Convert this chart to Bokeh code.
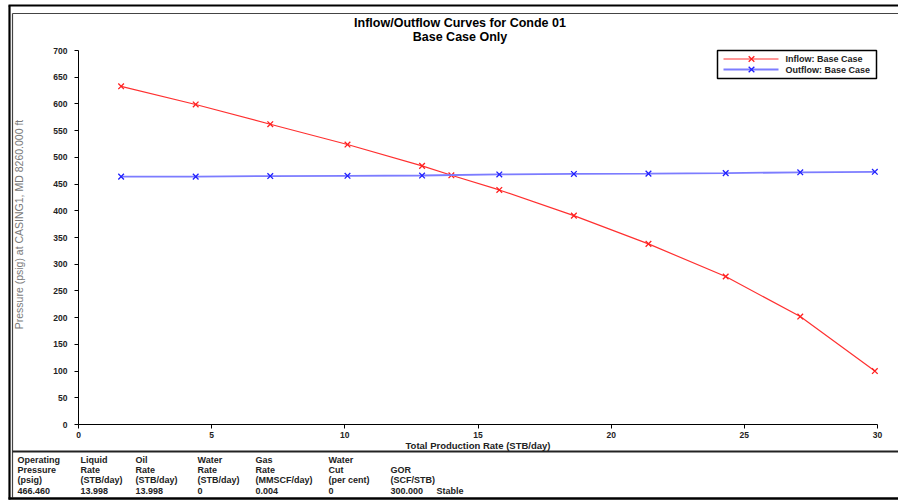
from math import pi
from bokeh.plotting import figure
from bokeh.models import Range1d, FixedTicker, ColumnDataSource
from bokeh.core.properties import value
from bokeh.embed import file_html
from bokeh.resources import INLINE

# ---------------- data ----------------
title_lines = ["Inflow/Outflow Curves for Conde 01", "Base Case Only"]
x_label = "Total Production Rate (STB/day)"
y_label = "Pressure (psig) at CASING1, MD 8260.000 ft"

inflow_rate = [1.6, 4.4, 7.2, 10.1, 12.9, 14.0, 15.8, 18.6, 21.4, 24.3, 27.1, 29.9]
inflow_pressure = [633, 599, 562, 524, 484, 466.46, 439, 391, 338, 277, 202, 100]

outflow_rate = [1.6, 4.4, 7.2, 10.1, 12.9, 15.8, 18.6, 21.4, 24.3, 27.1, 29.9]
outflow_pressure = [464, 464, 465, 465.5, 466, 468, 469, 469.5, 470.5, 472, 473]

x_ticks = [0, 5, 10, 15, 20, 25, 30]
y_ticks = [0, 50, 100, 150, 200, 250, 300, 350, 400, 450, 500, 550, 600, 650, 700]

series_labels = ["Inflow: Base Case", "Outflow: Base Case"]
line_colors = ["#ff3030", "#7c7cff"]
marker_colors = ["#ff2020", "#2020ff"]

table_headers = [
    ["Operating", "Pressure", "(psig)"],
    ["Liquid", "Rate", "(STB/day)"],
    ["Oil", "Rate", "(STB/day)"],
    ["Water", "Rate", "(STB/day)"],
    ["Gas", "Rate", "(MMSCF/day)"],
    ["Water", "Cut", "(per cent)"],
    ["", "GOR", "(SCF/STB)"],
    ["", "", ""],
]
table_values = ["466.460", "13.998", "13.998", "0", "0.004", "0", "300.000", "Stable"]

# ---------------- layout (pixels) ----------------
W, H = 898, 500
L, R, T, B = 78, 877, 50, 424          # plot area edges
x_min, x_max, y_min, y_max = 0, 30, 0, 700
col_x = [17, 80, 135, 197, 255, 328, 390, 436]
row_y = [459.5, 469.5, 479.5, 490]
leg_box = (717, 876, 50, 78)          # left, right, top, bottom
leg_rows = [58.5, 69]
FONT = "Liberation Sans"

kx = (R - L) / (x_max - x_min)
ky = (B - T) / (y_max - y_min)

p = figure(
    width=W, height=H,
    x_range=Range1d(x_min - L / kx, x_max + (W - R) / kx),
    y_range=Range1d(y_min - (H - B) / ky, y_max + T / ky),
    output_backend="svg", toolbar_location=None,
    min_border=0, outline_line_color=None,
    background_fill_color="white", border_fill_color="white",
)
p.extra_x_ranges = {"px": Range1d(0, W)}
p.extra_y_ranges = {"px": Range1d(H, 0)}
p.xgrid.visible = False
p.ygrid.visible = False

# axes drawn inside the frame
for ax, ticks, bnd in ((p.xaxis, x_ticks, (x_min, x_max)), (p.yaxis, y_ticks, (y_min, y_max))):
    ax.fixed_location = 0
    ax.bounds = bnd
    ax.ticker = FixedTicker(ticks=ticks)
    ax.minor_tick_line_color = None
    ax.major_tick_in = 0
    ax.major_tick_out = 4
    ax.axis_line_color = "black"
    ax.axis_line_width = 1
    ax.major_tick_line_color = "black"
    ax.major_label_text_font = FONT
    ax.major_label_text_font_size = "8.5px"
    ax.major_label_text_font_style = "bold"
    ax.major_label_text_color = "#222222"
p.xaxis.major_label_standoff = 3
p.yaxis.major_label_standoff = 7

# ---------------- series ----------------
p.line(inflow_rate, inflow_pressure, line_color=line_colors[0], line_width=1.2)
p.scatter(inflow_rate, inflow_pressure, marker="x", size=8,
          line_color=marker_colors[0], line_width=1.3)
p.line(outflow_rate, outflow_pressure, line_color=line_colors[1], line_width=1.8)
p.scatter(outflow_rate, outflow_pressure, marker="x", size=8,
          line_color=marker_colors[1], line_width=1.3)

# ---------------- legend (drawn in pixel space) ----------------
lx0, lx1, lt, lb = leg_box
p.quad(left=[lx0], right=[lx1], top=[lt], bottom=[lb], fill_color="white",
       line_color="black", line_width=1.5, x_range_name="px", y_range_name="px")
p.segment(x0=[lx0 + 6] * 2, x1=[lx0 + 61] * 2, y0=leg_rows, y1=leg_rows,
          line_color=line_colors, line_width=[1.2, 1.8],
          x_range_name="px", y_range_name="px")
p.scatter(x=[lx0 + 34] * 2, y=leg_rows, marker="x", size=8, line_width=1.3,
          line_color=marker_colors, x_range_name="px", y_range_name="px")
p.text(x=[lx0 + 68] * 2, y=leg_rows, text=series_labels,
       x_range_name="px", y_range_name="px",
       text_font=value(FONT), text_font_size="9px", text_font_style="bold",
       text_align="left", text_baseline="middle", text_color="#222222")

# ---------------- frame / separators ----------------
frame = ColumnDataSource(dict(
    x0=[8, 12, 9, 12, 12, 8],
    y0=[5, 13, 5, 13, 451, 498],
    x1=[W, W, 9, 12, W, W],
    y1=[5, 13, 499, 497, 451, 498],
    lw=[2.2, 1.2, 2.2, 1.2, 2.0, 2.4],
    col=["black", "#444444", "black", "#444444", "#222222", "black"],
))
p.segment("x0", "y0", "x1", "y1", source=frame, line_width="lw", line_color="col",
          x_range_name="px", y_range_name="px")

# ---------------- texts ----------------
p.text(x=[(L + R) / 2 - 18] * 2, y=[22, 36], text=title_lines,
       x_range_name="px", y_range_name="px",
       text_font=value(FONT), text_font_size="12.5px", text_font_style="bold",
       text_align="center", text_baseline="middle", text_color="black")

p.text(x=[(L + R) / 2], y=[445], text=[x_label],
       x_range_name="px", y_range_name="px",
       text_font=value(FONT), text_font_size="9.5px", text_font_style="bold",
       text_align="center", text_baseline="middle", text_color="#222222")

p.text(x=[18], y=[224], text=[y_label], angle=pi / 2,
       x_range_name="px", y_range_name="px",
       text_font=value(FONT), text_font_size="10.5px",
       text_align="center", text_baseline="middle", text_color="#7a7a7a")

tx, ty, tt = [], [], []
for ci, hdr in enumerate(table_headers):
    for ri, s in enumerate(hdr):
        if s:
            tx.append(col_x[ci]); ty.append(row_y[ri]); tt.append(s)
    tx.append(col_x[ci]); ty.append(row_y[3]); tt.append(table_values[ci])
p.text(x=tx, y=ty, text=tt, x_range_name="px", y_range_name="px",
       text_font=value(FONT), text_font_size="9px", text_font_style="bold",
       text_align="left", text_baseline="middle", text_color="#222222")

open("out.html", "w").write(file_html(p, INLINE))
